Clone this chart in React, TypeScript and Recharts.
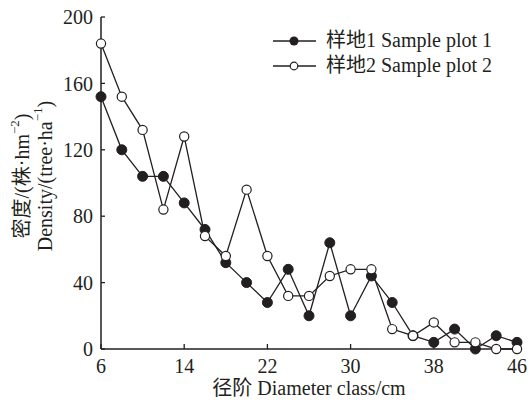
import { CartesianGrid, Legend, Line, LineChart, XAxis, YAxis } from "recharts"

// 径阶 (cm)
const diameters = [6, 8, 10, 12, 14, 16, 18, 20, 22, 24, 26, 28, 30, 32, 34, 36, 38, 40, 42, 44, 46]
// 样地1 密度
const plot1 = [152, 120, 104, 104, 88, 72, 52, 40, 28, 48, 20, 64, 20, 44, 28, 8, 4, 12, 0, 8, 4]
// 样地2 密度
const plot2 = [184, 152, 132, 84, 128, 68, 56, 96, 56, 32, 32, 44, 48, 48, 12, 8, 16, 4, 4, 0, 0]

const xTicks = [6, 14, 22, 30, 38, 46]
const yTicks = [0, 40, 80, 120, 160, 200]

const data = diameters.map((d, i) => ({ d, p1: plot1[i], p2: plot2[i] }))

const FONT = "'Liberation Serif', 'Times New Roman', 'Noto Sans CJK SC', serif"
const FS = 20

function YLabel() {
  const cy = 176
  return (
    <g fontFamily={FONT} fontSize={FS} fill="#231f20">
      <text x={22} y={cy} textAnchor="middle" dominantBaseline="central" transform={`rotate(-90, 22, ${cy})`}>
        密度/(株·hm<tspan fontSize={13} dy={-8}>−2</tspan><tspan dy={8}>)</tspan>
      </text>
      <text x={45} y={cy} textAnchor="middle" dominantBaseline="central" transform={`rotate(-90, 45, ${cy})`}>
        Density/(tree·ha<tspan fontSize={13} dy={-8}>−1</tspan><tspan dy={8}>)</tspan>
      </text>
    </g>
  )
}

function XLabel(props: any) {
  const { viewBox } = props
  return (
    <text x={viewBox.x + viewBox.width / 2} y={395} textAnchor="middle" fontFamily={FONT} fontSize={FS} fill="#231f20">
      径阶 Diameter class/cm
    </text>
  )
}

function LegendBox(props: any) {
  const { payload } = props
  return (
    <div style={{ fontFamily: FONT, fontSize: FS, color: "#231f20", lineHeight: "25px" }}>
      {(payload || []).map((p: any, i: number) => (
        <div key={i} style={{ display: "flex", alignItems: "center", whiteSpace: "nowrap" }}>
          <svg width={46} height={14} style={{ marginRight: 8 }}>
            <line x1={1} y1={7} x2={44} y2={7} stroke="#231f20" strokeWidth={1.3} />
            {i === 0 ? (
              <circle cx={22} cy={7} r={4.5} fill="#231f20" />
            ) : (
              <circle cx={22} cy={7} r={3.8} fill="#fff" stroke="#231f20" strokeWidth={1.2} />
            )}
          </svg>
          <span>{p.value}</span>
        </div>
      ))}
    </div>
  )
}

export default function App() {
  return (
    <div style={{ position: "fixed", left: 0, top: 0, background: "#fff" }}>
      <LineChart width={528} height={403} data={data} margin={{ top: 17, right: 11, bottom: 0, left: 0 }}>
        <CartesianGrid stroke="none" />
        <XAxis
          dataKey="d"
          type="number"
          domain={[6, 46]}
          ticks={xTicks}
          height={54}
          tickSize={-5}
          tickMargin={15}
          axisLine={{ stroke: "#231f20", strokeWidth: 1.5 }}
          tickLine={{ stroke: "#231f20", strokeWidth: 1.3 }}
          tick={{ fill: "#231f20", fontFamily: FONT, fontSize: FS }}
          label={<XLabel />}
        />
        <YAxis
          type="number"
          domain={[0, 200]}
          ticks={yTicks}
          width={101}
          tickSize={-4}
          tickMargin={12}
          axisLine={{ stroke: "#231f20", strokeWidth: 1.5 }}
          tickLine={{ stroke: "#231f20", strokeWidth: 1.3 }}
          tick={{ fill: "#231f20", fontFamily: FONT, fontSize: FS }}
          label={<YLabel />}
        />
        <Legend
          layout="vertical"
          verticalAlign="middle"
          align="center"
          wrapperStyle={{ left: 272, top: 28, width: 250 }}
          content={<LegendBox />}
        />
        <Line
          dataKey="p1"
          name="样地1 Sample plot 1"
          stroke="#231f20"
          strokeWidth={1.3}
          dot={{ r: 5, fill: "#231f20", stroke: "#231f20", strokeWidth: 1 }}
          isAnimationActive={false}
        />
        <Line
          dataKey="p2"
          name="样地2 Sample plot 2"
          stroke="#231f20"
          strokeWidth={1.3}
          dot={{ r: 4.6, fill: "#fff", stroke: "#231f20", strokeWidth: 1.2 }}
          isAnimationActive={false}
        />
      </LineChart>
    </div>
  )
}
